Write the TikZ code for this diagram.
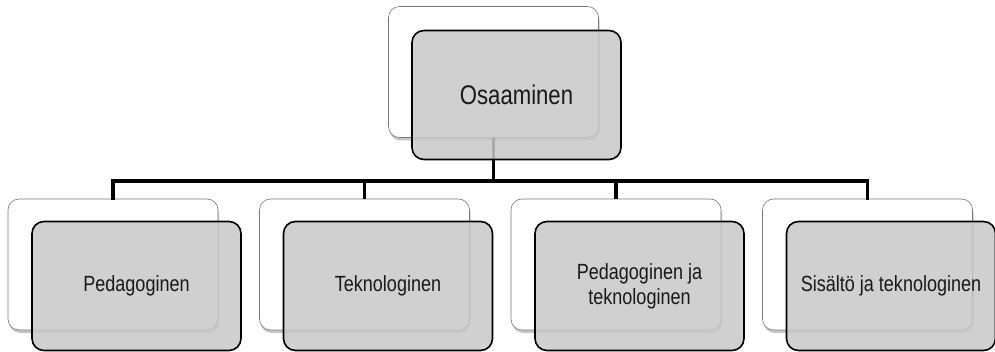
\documentclass[tikz,border=0pt]{standalone}
\usepackage{fontspec}
\setmainfont{Liberation Sans}[FakeStretch=0.82]
\usetikzlibrary{shadows}
\definecolor{boxgray}{RGB}{200,200,200}
\definecolor{edgegray}{RGB}{120,120,120}
\tikzset{
  backbox/.style={draw=edgegray, line width=0.6pt, fill=white, rounded corners=11pt,
    minimum width=210pt, minimum height=131pt, inner sep=0pt,
    drop shadow={shadow xshift=1pt, shadow yshift=-3pt, opacity=0.45}},
  frontbox/.style={draw=black, line width=1.6pt, fill=boxgray, fill opacity=0.85, text opacity=1,
    rounded corners=12pt, minimum width=209pt, minimum height=129pt, inner sep=2pt,
    align=center, font=\fontsize{22}{25}\selectfont, text=black!90},
  conn/.style={draw=black, line width=3.6pt}
}
\begin{document}
\begin{tikzpicture}[x=1pt,y=-1pt]
\useasboundingbox (0,0) rectangle (995,352);
% back boxes
\node[backbox] (w0) at (493.5,72) {};
\node[backbox] (w1) at (113,264.5) {};
\node[backbox] (w2) at (364.5,264.5) {};
\node[backbox] (w3) at (616,264.5) {};
\node[backbox] (w4) at (867.5,264.5) {};
% connectors
\coordinate (bus) at (0,181);
\draw[conn] (w0.south) -- (w0.south |- bus);
\draw[conn, line cap=rect] (w1.north) |- (w4.north |- bus) -- (w4.north);
\draw[conn] (w2.north) -- (w2.north |- bus);
\draw[conn] (w3.north) -- (w3.north |- bus);
% front boxes
\node[frontbox, font=\fontsize{27}{30}\selectfont] (g0) at (516.5,95) {Osaaminen};
\node[frontbox] (g1) at (136.5,286) {Pedagoginen};
\node[frontbox] (g2) at (388,286) {Teknologinen};
\node[frontbox] (g3) at (639.5,286) {Pedagoginen ja\\teknologinen};
\node[frontbox] (g4) at (891,286) {Sisältö ja teknologinen};
\end{tikzpicture}
\end{document}
